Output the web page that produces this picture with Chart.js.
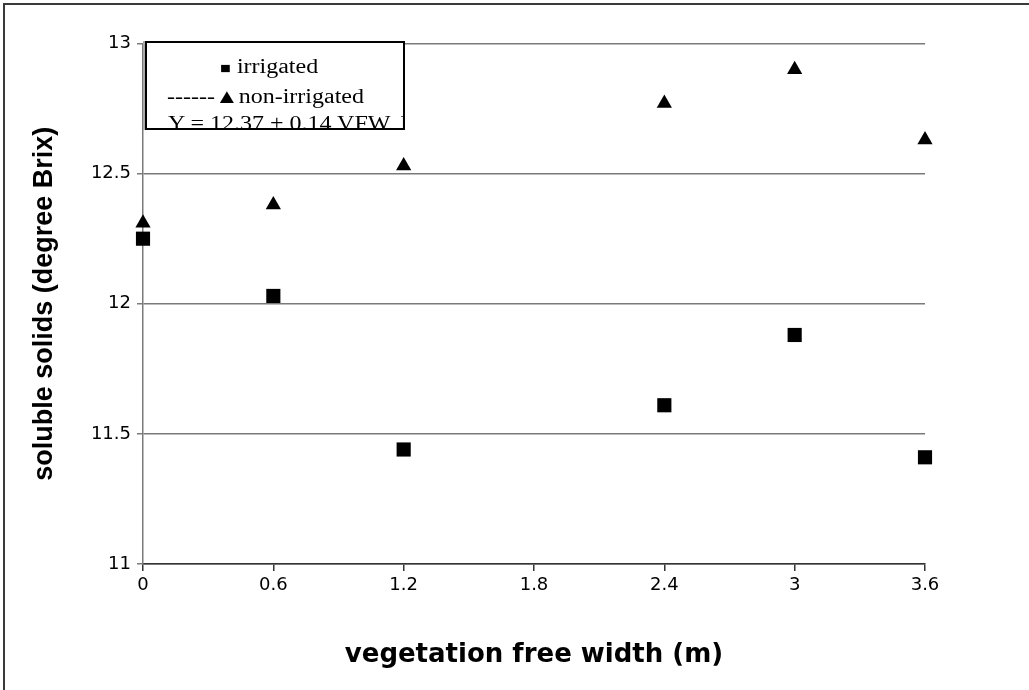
<!DOCTYPE html>
<html>
<head>
<meta charset="utf-8">
<script src="https://cdn.jsdelivr.net/npm/chart.js@4.4.1/dist/chart.umd.min.js"></script>
<style>
  html, body { margin: 0; padding: 0; background: #fff; }
  #wrap { position: relative; width: 1029px; height: 690px; overflow: hidden; }
  #frame { position: absolute; left: 3px; top: 3px; width: 1026px; height: 687px;
           border-left: 2px solid #3a3a3a; border-top: 2px solid #3a3a3a; box-sizing: border-box; }
  canvas { position: absolute; left: 0; top: 0; }
  #legend { position: absolute; left: 145px; top: 41px; width: 260px; height: 89px;
            border: 2px solid #000; box-sizing: border-box; background: #fff; overflow: hidden;
            font-family: "Liberation Serif", "Times New Roman", serif; font-size: 20px; color: #000;
            box-shadow: -2px 0 0 #aaa; }
  #legend div { position: absolute; white-space: nowrap; line-height: 22px;
                transform: scaleX(1.2); transform-origin: left center; }
  sup { font-size: 13px; vertical-align: 7px; line-height: 0; }
</style>
</head>
<body>
<div id="wrap">
  <canvas id="c" width="1029" height="690"></canvas>
  <div id="frame"></div>
  <div id="legend">
    <div style="left:73px;top:12px;"><span style="font-size:15px;">■</span> irrigated</div>
    <div style="left:20px;top:42px;">------▲non-irrigated</div>
    <div style="left:21px;top:69px;">Y = 12.37 + 0.14 VFW, R<sup>2</sup> = 0.71</div>
  </div>
</div>
<script>
const xValues = [0, 0.6, 1.2, 2.4, 3.0, 3.6];
const irrigated = [12.25, 12.03, 11.44, 11.61, 11.88, 11.41];
const nonIrrigated = [12.31, 12.38, 12.53, 12.77, 12.90, 12.63];
const xTicks = [0, 0.6, 1.2, 1.8, 2.4, 3, 3.6];
const xTickLabels = ['0', '0.6', '1.2', '1.8', '2.4', '3', '3.6'];
const yTicks = [11, 11.5, 12, 12.5, 13];
const yTickLabels = ['11', '11.5', '12', '12.5', '13'];

const toPoints = (ys) => xValues.map((x, i) => ({ x: x, y: ys[i] }));
const tickFont = { family: '"DejaVu Sans", "Liberation Sans", Arial, sans-serif', size: 18 };

new Chart(document.getElementById('c'), {
  type: 'scatter',
  data: {
    datasets: [
      { label: 'irrigated', data: toPoints(irrigated), pointStyle: 'rect', pointRadius: 10,
        backgroundColor: '#000', borderColor: '#000', borderWidth: 0, clip: false },
      { label: 'non-irrigated', data: toPoints(nonIrrigated), pointStyle: 'triangle', pointRadius: 8.8,
        backgroundColor: '#000', borderColor: '#000', borderWidth: 0, clip: false }
    ]
  },
  options: {
    responsive: false,
    animation: false,
    events: [],
    layout: { padding: { left: 24, top: 43.5, right: 104, bottom: 15.4 } },
    plugins: { legend: { display: false }, tooltip: { enabled: false } },
    scales: {
      x: {
        type: 'linear', min: 0, max: 3.6,
        afterBuildTicks: (s) => { s.ticks = xTicks.map(v => ({ value: v })); },
        afterFit: (s) => { s.height = 110.6; },
        ticks: { callback: (v, i) => xTickLabels[i], color: '#000', padding: 4,
                 font: tickFont, maxRotation: 0, autoSkip: false },
        grid: { drawOnChartArea: false, drawTicks: true, tickLength: 7, color: '#333', lineWidth: 1.5 },
        border: { display: true, color: '#333', width: 1.5 },
        title: { display: true, text: 'vegetation free width (m)', color: '#000',
                 font: { family: '"DejaVu Sans", "Liberation Sans", Arial, sans-serif', size: 26, weight: 'bold' } }
      },
      y: {
        type: 'linear', min: 11, max: 13,
        afterBuildTicks: (s) => { s.ticks = yTicks.map(v => ({ value: v })); },
        afterFit: (s) => { s.width = 119; },
        ticks: { callback: (v, i) => yTickLabels[i], color: '#000', padding: 6,
                 font: tickFont },
        grid: { drawOnChartArea: true, drawTicks: true, tickLength: 6, color: '#7a7a7a', lineWidth: 1.5 },
        border: { display: true, color: '#7a7a7a', width: 1.5 },
        title: { display: true, text: 'soluble solids (degree Brix)', color: '#000',
                 font: { family: '"Liberation Sans", Arial, sans-serif', size: 27, weight: 'bold' } }
      }
    }
  }
});
</script>
</body>
</html>
